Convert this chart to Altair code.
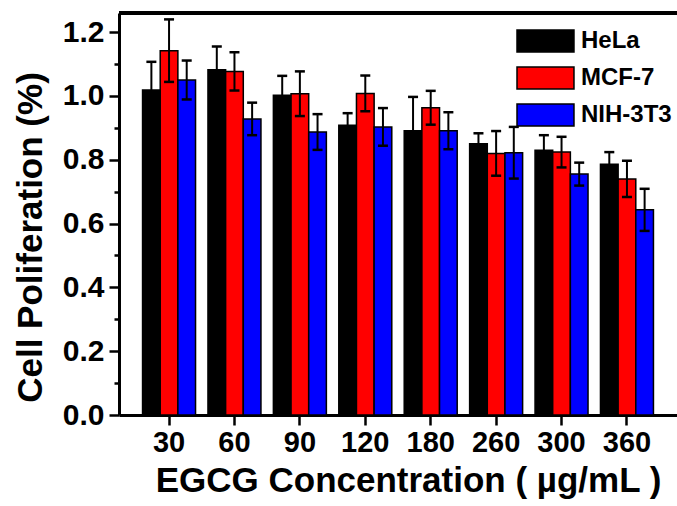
import altair as alt
import pandas as pd

conc = ["30", "60", "90", "120", "180", "260", "300", "360"]
lines = ["HeLa", "MCF-7", "NIH-3T3"]
colors = ["#000000", "#ff0000", "#0000ff"]

hela = [1.019, 1.082, 1.002, 0.908, 0.891, 0.850, 0.830, 0.786]
hela_err = [0.088, 0.073, 0.061, 0.038, 0.106, 0.033, 0.047, 0.038]
mcf7 = [1.142, 1.077, 1.007, 1.008, 0.963, 0.820, 0.824, 0.740]
mcf7_err = [0.098, 0.060, 0.070, 0.056, 0.053, 0.070, 0.048, 0.057]
nih = [1.050, 0.928, 0.887, 0.903, 0.891, 0.822, 0.755, 0.643]
nih_err = [0.061, 0.051, 0.056, 0.059, 0.058, 0.081, 0.036, 0.066]

rows = []
for name, vals, errs in [("HeLa", hela, hela_err), ("MCF-7", mcf7, mcf7_err), ("NIH-3T3", nih, nih_err)]:
    for c, v, e in zip(conc, vals, errs):
        rows.append({"conc": c, "line": name, "value": v, "low": v - e, "high": v + e})
df = pd.DataFrame(rows)

FONT = "Liberation Sans"
ytick_values = [i / 10 for i in range(13)]

x_enc = alt.X(
    "conc:N", sort=conc,
    scale=alt.Scale(paddingInner=0.19, paddingOuter=0.36),
    axis=alt.Axis(
        title="EGCG Concentration ( µg/mL )", labelAngle=0, bandPosition=0.5,
        labelFont=FONT, labelFontSize=29, labelFontWeight="bold", labelColor="black",
        labelPadding=3, tickSize=10, tickWidth=2.5, tickColor="black",
        domainWidth=3, domainColor="black",
        titleFont=FONT, titleFontSize=35, titleFontWeight="bold", titleColor="black",
        titlePadding=6, titleX=289, titleAlign="center", titleAnchor="middle",
    ),
)
xo_enc = alt.XOffset("line:N", sort=lines, scale=alt.Scale(paddingInner=0, paddingOuter=0))

y_scale = alt.Scale(domain=[0, 1.26], nice=False, zero=True)
y_axis = alt.Axis(
    title="Cell Poliferation (%)", values=ytick_values, grid=False,
    labelExpr="round(datum.value*10) % 2 == 0 ? format(datum.value, '.1f') : ''",
    tickSize={"condition": {"test": "round(datum.value*10) % 2 == 0", "value": 10}, "value": 5},
    tickWidth=2.5, tickColor="black", domainWidth=3, domainColor="black",
    labelFont=FONT, labelFontSize=30, labelFontWeight="bold", labelColor="black",
    labelPadding=5,
    titleFont=FONT, titleFontSize=35, titleFontWeight="bold", titleColor="black",
    titleX=-89, titleY=224, titleBaseline="middle", titleAlign="center",
)

bars = alt.Chart(df).mark_bar(stroke="black", strokeWidth=1.5).encode(
    x=x_enc,
    xOffset=xo_enc,
    y=alt.Y("value:Q", scale=y_scale, axis=y_axis),
    fill=alt.Fill(
        "line:N", sort=lines,
        scale=alt.Scale(domain=lines, range=colors),
        legend=alt.Legend(
            title=None, orient="none", legendX=397, legendY=16, padding=0,
            symbolType="M-1,-1 H4.18 V1 H-1 Z", symbolSize=484,
            symbolStrokeColor="black", symbolStrokeWidth=1.5, symbolOpacity=1,
            labelFont=FONT, labelFontSize=24, labelFontWeight="bold", labelColor="black",
            labelOffset=41, rowPadding=9,
        ),
    ),
)

rules = alt.Chart(df).mark_rule(color="black", strokeWidth=2).encode(
    x=x_enc, xOffset=xo_enc,
    y=alt.Y("low:Q", scale=y_scale, axis=y_axis), y2="high:Q",
)
cap_hi = alt.Chart(df).mark_tick(orient="horizontal", color="black", size=10, thickness=2.5, opacity=1).encode(
    x=x_enc, xOffset=xo_enc, y=alt.Y("high:Q", scale=y_scale, axis=y_axis),
)
cap_lo = alt.Chart(df).mark_tick(orient="horizontal", color="black", size=10, thickness=2.5, opacity=1).encode(
    x=x_enc, xOffset=xo_enc, y=alt.Y("low:Q", scale=y_scale, axis=y_axis),
)
top_border = alt.Chart(df).mark_rule(color="black", strokeWidth=3).encode(y=alt.value(0))

chart = alt.layer(bars, rules, cap_hi, cap_lo, top_border).properties(
    width=558, height=402,
    autosize=alt.AutoSizeParams(type="none"),
    padding={"left": 119, "top": 13, "right": 0, "bottom": 91},
    background="white",
).configure_view(stroke=None)

chart.save("out.html", embed_options={"renderer": "svg", "actions": False})
